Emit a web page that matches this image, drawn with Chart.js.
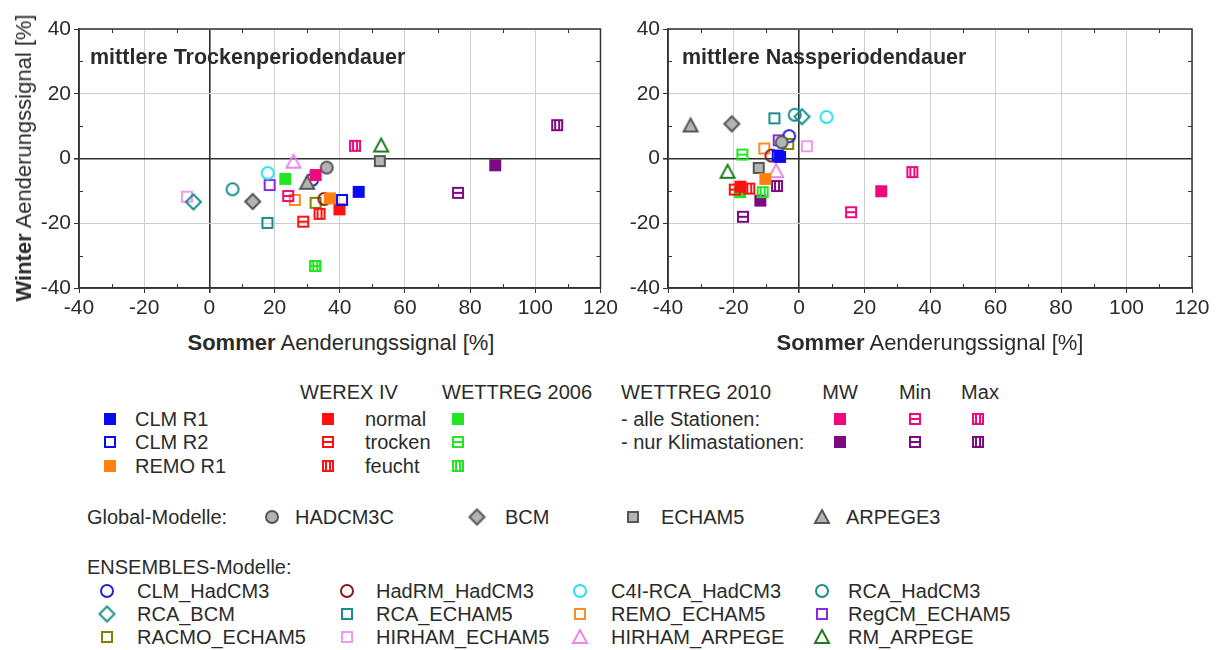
<!DOCTYPE html>
<html lang="de">
<head>
<meta charset="UTF-8">
<title>Trocken- und Nassperiodendauer</title>
<script src="https://cdn.jsdelivr.net/npm/chart.js"></script>
<style>
  body { margin: 0; background: #fff; font-family: "Liberation Sans", Arial, sans-serif; color: #2b2b2b; }
  #page { position: relative; width: 1219px; height: 650px; overflow: hidden; }
  .box { position: absolute; top: 0; }
  .panelTitle { position: absolute; top: 47px; font-size: 21.5px; font-weight: bold; line-height: 1; white-space: nowrap; }
  .axisTitle { position: absolute; font-size: 22px; line-height: 1; white-space: nowrap; transform: translate(-50%, -50%); }
  .axisTitle.rot { transform: translate(-50%, -50%) rotate(-90deg); }
  .lg { position: absolute; font-size: 20px; line-height: 1; white-space: nowrap; transform: translateY(-50%); }
  .lg.c { transform: translate(-50%, -50%); }
  .mk { position: absolute; transform: translate(-50%, -50%); }
</style>
</head>
<body>
<div id="page">
  <div class="box" style="left:0"><canvas id="trocken" width="621" height="330"></canvas></div>
  <div class="box" style="left:600px"><canvas id="nass" width="619" height="330"></canvas></div>

  <div class="panelTitle" style="left:90px">mittlere Trockenperiodendauer</div>
  <div class="panelTitle" style="left:682px">mittlere Nassperiodendauer</div>

  <div class="axisTitle rot" style="left:24px; top:158px"><b>Winter</b> Aenderungssignal [%]</div>
  <div class="axisTitle" style="left:341px; top:343px"><b>Sommer</b> Aenderungssignal [%]</div>
  <div class="axisTitle" style="left:930px; top:343px"><b>Sommer</b> Aenderungssignal [%]</div>

  <div id="legend"></div>
</div>

<script>
// one entry per model / method, same order in every array below
const series = [
  'CLM R1', 'CLM R2', 'REMO R1',
  'WEREX IV normal', 'WEREX IV trocken', 'WEREX IV feucht',
  'WETTREG 2006 normal', 'WETTREG 2006 trocken', 'WETTREG 2006 feucht',
  'WETTREG 2010 alle MW', 'WETTREG 2010 alle Min', 'WETTREG 2010 alle Max',
  'WETTREG 2010 Klima MW', 'WETTREG 2010 Klima Min', 'WETTREG 2010 Klima Max',
  'HADCM3C', 'BCM', 'ECHAM5', 'ARPEGE3',
  'CLM_HadCM3', 'HadRM_HadCM3', 'C4I-RCA_HadCM3', 'RCA_HadCM3',
  'RCA_BCM', 'RCA_ECHAM5', 'REMO_ECHAM5', 'RegCM_ECHAM5',
  'RACMO_ECHAM5', 'HIRHAM_ECHAM5', 'HIRHAM_ARPEGE', 'RM_ARPEGE'
];

// mittlere Trockenperiodendauer: Sommer / Winter Aenderung [%]
const trockenSommer = [45.8, 40.7, 37.0, 39.9, 28.8, 33.8, 23.3, 32.5, 32.5, 32.6, 24.2, 44.7,
  87.7, 76.3, 106.7, 36.0, 13.3, 52.3, 30.0, 31.5, 35.3, 17.9, 7.1, -4.9, 17.8, 26.2, 18.5,
  32.6, -6.9, 25.8, 52.7];
const trockenWinter = [-10.3, -12.8, -12.3, -15.7, -19.5, -17.1, -6.3, -33.2, -33.2, -5.1, -11.6, 3.9,
  -2.1, -10.6, 10.3, -2.8, -13.3, -0.8, -7.5, -6.6, -12.5, -4.5, -9.5, -13.4, -19.9, -12.8, -8.2,
  -13.7, -11.8, -1.0, 4.0];

// mittlere Nassperiodendauer
const nassSommer = [-5.8, -6.5, -10.3, -17.9, -19.6, -15.2, -18.0, -17.3, -11.1, 25.1, 15.9, 34.6,
  -11.8, -17.1, -6.7, -5.3, -20.5, -12.3, -33.1, -3.0, -8.4, 8.4, -1.3, 0.9, -7.5, -10.6, -6.2,
  -3.3, 2.4, -7.0, -21.8];
const nassWinter = [0.5, 0.9, -6.3, -8.7, -9.6, -9.3, -10.4, 1.2, -10.4, -10.1, -16.6, -4.2,
  -13.0, -18.0, -8.5, 5.0, 10.7, -2.9, 10.2, 6.9, 0.9, 12.8, 13.5, 12.9, 12.4, 3.1, 5.6,
  4.5, 3.8, -3.9, -4.1];

const axisMin = -40, axisMaxX = 120, axisMaxY = 40, axisStep = 20;

// marker look: [shape, stroke colour, fill colour or null]
const BLUE = '#0a0af0', RED = '#ff1010', GREEN = '#22e622', PINK = '#f0087c', PURPLE = '#7e0a80';
const TEAL = '#1b8b8b', GRAYF = '#b4b4b4', GRAYS = '#565656';
const looks = [
  ['sq', BLUE, BLUE], ['sq', BLUE, null], ['sq', '#ff8210', '#ff8210'],
  ['sq', RED, RED], ['sqH', RED, null], ['sqV', RED, null],
  ['sq', GREEN, GREEN], ['sqH', GREEN, null], ['sqV', GREEN, null],
  ['sq', PINK, PINK], ['sqH', PINK, null], ['sqV', PINK, null],
  ['sq', PURPLE, PURPLE], ['sqH', PURPLE, null], ['sqV', PURPLE, null],
  ['circle', GRAYS, GRAYF], ['diamond', GRAYS, GRAYF], ['sq', GRAYS, GRAYF], ['tri', GRAYS, GRAYF],
  ['circle', '#2424cc', null], ['circle', '#861c1c', null], ['circle', '#26e2ee', null], ['circle', TEAL, null],
  ['diamond', TEAL, null], ['sq', TEAL, null], ['sq', '#ff8c1e', null], ['sq', '#8a2be2', null],
  ['sq', '#828200', null], ['sq', '#ee9aee', null], ['tri', '#ec86ec', null], ['tri', '#1e7a1e', null]
];

function makeMarker(shape, stroke, fill) {
  const size = { sq: 12, sqH: 12, sqV: 12, circle: 14, diamond: 17, tri: 16 }[shape];
  const c = document.createElement('canvas');
  c.width = c.height = size + 4;
  const g = c.getContext('2d');
  const m = 2, s = size, h = size / 2 + m;
  g.lineWidth = 2;
  g.strokeStyle = stroke;
  g.fillStyle = fill || 'rgba(0,0,0,0)';
  g.beginPath();
  if (shape.startsWith('sq')) {
    g.rect(m + 1, m + 1, s - 2, s - 2);
  } else if (shape === 'circle') {
    g.arc(h, h, s / 2 - 1, 0, Math.PI * 2);
  } else if (shape === 'diamond') {
    g.moveTo(h, m + 1); g.lineTo(m + s - 1, h); g.lineTo(h, m + s - 1); g.lineTo(m + 1, h); g.closePath();
  } else {
    g.moveTo(h, m + 1); g.lineTo(m + s - 1, m + s - 2); g.lineTo(m + 1, m + s - 2); g.closePath();
  }
  if (fill) g.fill();
  g.stroke();
  g.beginPath();
  if (shape === 'sqH') { g.moveTo(m + 1, h); g.lineTo(m + s - 1, h); }
  if (shape === 'sqV') { g.moveTo(h - 2, m + 1); g.lineTo(h - 2, m + s - 1); g.moveTo(h + 2, m + 1); g.lineTo(h + 2, m + s - 1); }
  g.stroke();
  return c;
}

const markers = looks.map(l => makeMarker(l[0], l[1], l[2]));

// minor ticks every 10 on all four sides plus the closed frame
const frame = {
  id: 'frame',
  afterDraw(chart) {
    const { ctx, chartArea: a, scales: { x, y } } = chart;
    ctx.save();
    ctx.strokeStyle = '#333';
    ctx.lineWidth = 1;
    ctx.beginPath();
    for (let v = axisMin + 10; v < axisMaxX; v += axisStep) {
      const px = Math.round(x.getPixelForValue(v)) + 0.5;
      ctx.moveTo(px, a.bottom); ctx.lineTo(px, a.bottom - 4);
      ctx.moveTo(px, a.top); ctx.lineTo(px, a.top + 4);
    }
    for (let v = axisMin + 10; v < axisMaxY; v += axisStep) {
      const py = Math.round(y.getPixelForValue(v)) + 0.5;
      ctx.moveTo(a.left, py); ctx.lineTo(a.left + 4, py);
      ctx.moveTo(a.right, py); ctx.lineTo(a.right - 4, py);
    }
    ctx.stroke();
    ctx.lineWidth = 1.5;
    ctx.strokeRect(a.left, a.top, a.right - a.left, a.bottom - a.top);
    ctx.restore();
  }
};

function makeChart(id, xs, ys, yWidth, padRight) {
  const datasets = series.map((name, i) => ({
    label: name,
    data: [{ x: xs[i], y: ys[i] }],
    pointStyle: markers[i],
    pointRadius: 7
  }));
  const gridColor = c => (c.tick && c.tick.value === 0) ? '#303030' : '#cfcfcf';
  const gridWidth = c => (c.tick && c.tick.value === 0) ? 1.6 : 1;
  const tickFont = { family: '"Liberation Sans", Arial, sans-serif', size: 21 };
  return new Chart(document.getElementById(id), {
    type: 'scatter',
    data: { datasets },
    plugins: [frame],
    options: {
      responsive: false,
      animation: false,
      events: [],
      layout: { padding: { left: 0, top: 29, right: padRight, bottom: 0 } },
      plugins: { legend: { display: false }, tooltip: { enabled: false } },
      scales: {
        x: {
          min: axisMin, max: axisMaxX,
          ticks: { stepSize: axisStep, font: tickFont, color: '#2b2b2b', padding: 3, maxRotation: 0 },
          grid: { color: gridColor, lineWidth: gridWidth, tickColor: '#333', tickLength: 5 },
          border: { color: '#333', width: 1.5 },
          afterFit: s => { s.height = 330 - 288; }
        },
        y: {
          min: axisMin, max: axisMaxY,
          ticks: { stepSize: axisStep, font: tickFont, color: '#2b2b2b', padding: 3 },
          grid: { color: gridColor, lineWidth: gridWidth, tickColor: '#333', tickLength: 5 },
          border: { color: '#333', width: 1.5 },
          afterFit: s => { s.width = yWidth; }
        }
      }
    }
  });
}

makeChart('trocken', trockenSommer, trockenWinter, 79, 18);
makeChart('nass', nassSommer, nassWinter, 68, 27);

// legend block below the two panels
const legendTexts = [
  ['WEREX IV', 300, 392], ['WETTREG 2006', 442, 392], ['WETTREG 2010', 621, 392],
  ['CLM R1', 135, 419], ['CLM R2', 135, 442], ['REMO R1', 135, 466],
  ['normal', 365, 419], ['trocken', 365, 442], ['feucht', 365, 466],
  ['- alle Stationen:', 621, 419], ['- nur Klimastationen:', 621, 442],
  ['Global-Modelle:', 87, 517], ['HADCM3C', 295, 517], ['BCM', 505, 517],
  ['ECHAM5', 661, 517], ['ARPEGE3', 846, 517],
  ['ENSEMBLES-Modelle:', 87, 567]
];
const legendCentered = [['MW', 840, 392], ['Min', 915, 392], ['Max', 980, 392]];
const ensCols = [137, 376, 611, 848], ensRows = [591, 614, 637];
const ensMarkCols = [107, 347, 580, 822];
const legendMarks = [
  [110, 419], [110, 442], [110, 466],
  [328, 419], [328, 442], [328, 466],
  [458, 419], [458, 442], [458, 466],
  [840, 419], [915, 419], [978, 419],
  [840, 442], [915, 442], [978, 442],
  [272, 517], [477, 517], [633, 517], [822, 517]
];
for (let k = 0; k < 12; k++) {
  const r = Math.floor(k / 4), c = k % 4;
  legendTexts.push([series[19 + k], ensCols[c], ensRows[r]]);
  legendMarks.push([ensMarkCols[c], ensRows[r]]);
}

const legend = document.getElementById('legend');
legendTexts.forEach(([t, x, y]) => {
  const d = document.createElement('div');
  d.className = 'lg';
  d.style.left = x + 'px'; d.style.top = y + 'px';
  d.textContent = t;
  legend.appendChild(d);
});
legendCentered.forEach(([t, x, y]) => {
  const d = document.createElement('div');
  d.className = 'lg c';
  d.style.left = x + 'px'; d.style.top = y + 'px';
  d.textContent = t;
  legend.appendChild(d);
});
legendMarks.forEach(([x, y], i) => {
  const c = makeMarker(looks[i][0], looks[i][1], looks[i][2]);
  c.className = 'mk';
  c.style.left = x + 'px'; c.style.top = y + 'px';
  legend.appendChild(c);
});
</script>
</body>
</html>
